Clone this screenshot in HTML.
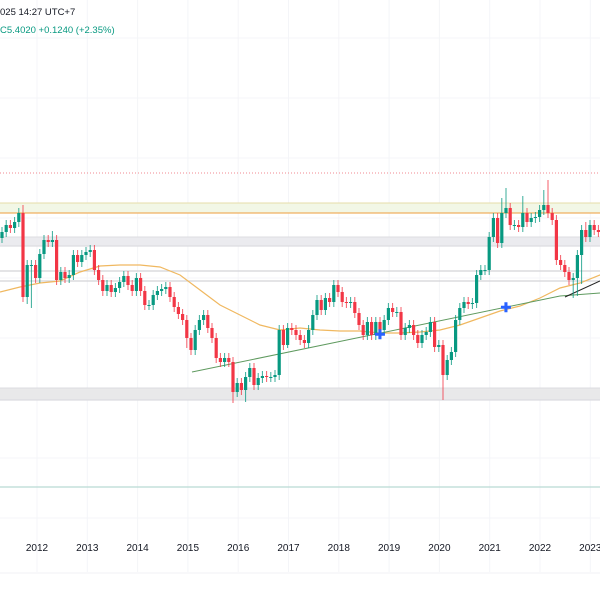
<!DOCTYPE html>
<html><head><meta charset="utf-8"><style>
html,body{margin:0;padding:0;background:#fff;width:600px;height:600px;overflow:hidden;font-family:"Liberation Sans",sans-serif}
svg{display:block}
</style></head><body>
<svg id="chart" width="600" height="600" viewBox="0 0 600 600" xmlns="http://www.w3.org/2000/svg">
<g id="grid"></g>
<g id="levels"></g>
<g id="lines"></g>
<g id="candles"></g>
<g id="marks"></g>
<g id="xaxis"></g>
<text x="0" y="15" font-size="9.5" fill="#131722">025 14:27 UTC+7</text>
<text x="0" y="33" font-size="9.5" fill="#089981">C5.4020  +0.1240 (+2.35%)</text>
</svg>
<script>
const closes=[18.40,18.75,18.60,18.90,19.35,15.15,16.75,16.75,16.10,17.30,18.00,17.90,18.00,16.00,16.40,16.10,16.25,17.25,16.90,17.25,17.40,17.50,16.50,16.00,15.45,15.75,15.40,15.60,15.90,16.20,15.75,15.45,16.10,15.45,14.75,14.75,15.25,15.45,15.55,15.65,15.15,14.65,14.30,14.00,13.10,12.50,13.50,14.00,14.25,13.60,13.10,12.10,11.90,12.10,11.90,10.40,10.85,10.50,11.15,11.60,10.75,11.10,11.20,11.15,11.15,11.25,13.50,12.75,13.60,13.50,13.25,13.00,12.85,13.50,14.25,15.00,14.50,15.10,14.90,15.75,15.40,14.90,14.85,14.90,14.35,13.75,13.25,13.90,13.25,13.90,13.50,14.00,14.60,14.40,14.40,13.25,13.60,13.75,13.25,12.85,13.25,13.40,13.90,12.65,12.75,11.25,12.00,12.40,14.00,14.60,14.90,14.80,14.85,16.25,16.50,16.50,18.15,19.10,17.85,19.35,19.60,18.75,18.75,18.65,19.35,18.90,19.10,19.15,19.50,19.75,19.35,19.00,17.00,16.75,16.40,16.00,16.10,17.25,18.50,18.15,18.75,18.50,18.40];
const firstOpen=18.1;
const highOverride={5:19.75,12:18.45,119:20.1,120:20.6,124:20.2,129:20.5,130:21.0,139:18.9};
const lowOverride={6:14.8,7:14.6,44:12.6,55:9.85,58:9.9,68:12.6,105:10.0,106:11.0,137:15.2,138:15.8,136:15.1};
const yearLabels=["2012","2013","2014","2015","2016","2017","2018","2019","2020","2021","2022","2023"];
const maValues=[15.4,15.65,15.85,15.95,16.4,16.7,16.75,16.75,16.65,16.25,15.5,14.75,14.25,13.75,13.5,13.6,13.5,13.45,13.45,13.35,13.35,13.4,13.5,13.75,14.1,14.45,14.7,15.1,15.6,15.85,16.25,16.5];
const maStep=20;
const trendStart=[192,11.4], trendMid=[560,15.2], trendEnd=[600,15.35];
const blackLine=[[565,15.15],[600,15.95]];
const levelsBand=[[19.85,19.35],[18.15,17.7],[10.6,10.0]];
const levelLines=[16.45,15.95];
const redDotted=21.35, greenLevel=5.65;
const crosses=[[380,13.25],[506,14.6]];

const NS="http://www.w3.org/2000/svg";
const y=p=>600-20*p;
const xi=i=>2+4.2*i;
const xYear=k=>37+50.3*k;
function mk(tag,attrs,parent){const e=document.createElementNS(NS,tag);for(const k in attrs)e.setAttribute(k,attrs[k]);parent.appendChild(e);return e;}
const G=id=>document.getElementById(id);

for(let k=0;k<yearLabels.length;k++){
  const l=mk('line',{x1:xYear(k),x2:xYear(k),y1:0,y2:572,stroke:'#f4f5f8','stroke-width':1},G('grid'));
  
  
}
for(let gy=38;gy<572;gy+=60){
  const l=mk('line',{x1:0,x2:600,y1:gy,y2:gy,stroke:'#f4f5f8','stroke-width':1},G('grid'));
  
  
}
mk('line',{x1:0,x2:600,y1:573,y2:573,stroke:'#f0f1f4'},G('grid'));

let rd=mk('line',{x1:0,x2:600,y1:y(redDotted),y2:y(redDotted),stroke:'#f08a90','stroke-width':1,'stroke-dasharray':'1,2'},G('levels'));


levelsBand.forEach((b,i)=>{
  const top=y(b[0]),bot=y(b[1]);
  const fill=i===0?'#f2f7e6':(i===1?'#ebebef':'#e9e9ea');
  const r=mk('rect',{x:0,y:top,width:600,height:bot-top,fill:fill},G('levels'));
  
  
  mk('line',{x1:0,x2:600,y1:top,y2:top,stroke:i===0?'#e6dca8':'#dcdce0','stroke-width':1},G('levels'));
  mk('line',{x1:0,x2:600,y1:bot,y2:bot,stroke:i===0?'#f0b060':'#dcdce0','stroke-width':1.2},G('levels'));
});
levelLines.forEach(v=>{
  const l=mk('line',{x1:0,x2:600,y1:y(v),y2:y(v),stroke:'#d4d4d8','stroke-width':1.2},G('levels'));
  
  
});
let gl=mk('line',{x1:0,x2:600,y1:y(greenLevel),y2:y(greenLevel),stroke:'#b9dbd4','stroke-width':1.2},G('levels'));



let d='';
maValues.forEach((v,i)=>{d+=(i?'L':'M')+(i*maStep)+','+y(v);});
let ma=mk('path',{d:d,fill:'none',stroke:'#f0b860','stroke-width':1.2},G('lines'));


let tl=mk('polyline',{points:[trendStart,trendMid,trendEnd].map(p=>p[0]+','+y(p[1])).join(' '),fill:'none',stroke:'#5f9a5f','stroke-width':1},G('lines'));


let bl=mk('polyline',{points:blackLine.map(p=>p[0]+','+y(p[1])).join(' '),fill:'none',stroke:'#222','stroke-width':1},G('lines'));



closes.forEach((c,i)=>{
  const o=i===0?firstOpen:closes[i-1];
  const up=c>=o;
  const hi=(highOverride[i]!==undefined)?highOverride[i]:Math.max(o,c)+0.25;
  const lo=(lowOverride[i]!==undefined)?lowOverride[i]:Math.min(o,c)-0.25;
  const col=up?'#089981':'#f23645';
  const x=xi(i);
  const g=mk('g',{},G('candles'));
  
  
  mk('line',{x1:x,x2:x,y1:y(hi),y2:y(lo),stroke:col,'stroke-width':1,opacity:0.8},g);
  const t=y(Math.max(o,c)),b=y(Math.min(o,c));
  mk('rect',{x:x-1.6,y:t,width:3.2,height:Math.max(1,b-t),fill:col},g);
});

crosses.forEach(p=>{
  const t=mk('text',{x:p[0],y:y(p[1])+4,'font-size':13,'font-weight':'bold',fill:'#2962ff','text-anchor':'middle'},G('marks'));
  t.textContent='✚';
  
  
});

yearLabels.forEach((s,k)=>{
  const t=mk('text',{x:xYear(k),y:551,'font-size':10,fill:'#131722','text-anchor':'middle'},G('xaxis'));
  t.textContent=s;
  
  
});
</script>
</body></html>
